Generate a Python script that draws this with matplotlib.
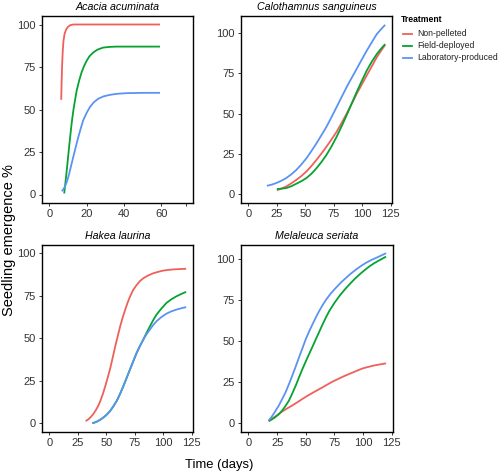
import matplotlib

matplotlib.use("Agg")
import matplotlib.pyplot as plt  # noqa: E402
from matplotlib.lines import Line2D  # noqa: E402

plt.rcParams["font.family"] = ["Liberation Sans", "DejaVu Sans"]

treatments = ["Non-pelleted", "Field-deployed", "Laboratory-produced"]
colors = ["#F0605A", "#06A332", "#5B93F2"]

# Acacia acuminata
acacia_red_x = [6.4, 6.6, 6.9, 7.2, 7.6, 8.2, 9.0, 10.0, 11.2, 12.9, 20, 40, 59.3]
acacia_red_y = [55.7, 66.0, 76.7, 84.0, 90.3, 94.5, 97.0, 98.6, 99.6, 100, 100, 100, 100]
acacia_green_x = [8.0, 8.7, 9.4, 10.3, 11.2, 12.0, 12.9, 13.8, 14.7, 16.0, 17.3, 18.6, 20,
                  21.5, 23.5, 25.8, 28.8, 32.0, 35.9, 48.3, 59.3]
acacia_green_y = [0.6, 7.5, 14.6, 24.5, 34.0, 42.0, 49.5, 55.5, 61.2, 67.0, 71.8, 75.5, 78.6,
                  81.3, 83.5, 85.2, 86.4, 86.8, 87.0, 87.0, 87.0]
acacia_blue_x = [6.7, 7.6, 8.5, 9.4, 10.3, 11.5, 12.9, 14.2, 15.6, 16.9, 18.2, 20.0, 21.8,
                 23.8, 26.2, 29.0, 32.4, 36.0, 41.2, 50.0, 59.3]
acacia_blue_y = [1.9, 3.2, 4.9, 7.5, 10.7, 16.0, 22.3, 28.0, 34.0, 39.0, 43.7, 48.0, 51.5,
                 54.2, 56.3, 57.7, 58.6, 59.2, 59.6, 59.8, 59.8]

# Calothamnus sanguineus
calo_red_x = [25, 29, 33.2, 37.6, 42.1, 46.5, 50.9, 55.3, 59.7, 64.1, 68.5, 73, 77.4, 81.8,
              86.2, 90.6, 95, 99.4, 103.8, 108.2, 112.6, 116.3, 120]
calo_red_y = [2.3, 3.4, 4.7, 6.6, 8.8, 11.2, 14.0, 17.4, 21.2, 25.2, 29.4, 34.0, 38.7, 44.2,
              50.0, 56.1, 62.3, 68.0, 73.7, 79.3, 85.0, 89.0, 92.8]
calo_green_x = [25, 29, 33.2, 37.6, 42.1, 46.5, 50.9, 55.3, 59.7, 64.1, 68.5, 73, 77.4, 81.8,
                86.2, 90.6, 95, 99.4, 103.8, 108.2, 112.6, 116.3, 120]
calo_green_y = [3.1, 3.3, 3.7, 4.8, 6.4, 8.0, 9.9, 12.6, 16.0, 19.9, 24.3, 29.7, 35.6, 42.1,
                49.0, 56.2, 63.4, 70.2, 76.7, 82.2, 87.0, 90.3, 93.2]
calo_blue_x = [16.2, 20.3, 24.4, 28.8, 33.2, 37.6, 42.1, 46.5, 50.9, 55.3, 59.7, 64.1, 68.5,
               73, 77.4, 81.8, 86.2, 90.6, 95, 99.4, 103.8, 108.2, 112.6, 116.3, 120]
calo_blue_y = [5.1, 5.8, 6.8, 8.2, 9.9, 12.2, 15.0, 18.4, 22.2, 26.7, 31.5, 36.6, 41.8, 47.9,
               54.1, 60.3, 66.5, 72.2, 77.8, 83.5, 89.1, 94.3, 99.4, 102.4, 105.2]

# Hakea laurina
hakea_red_x = [31.8, 34.0, 36.1, 38.3, 40.5, 42.7, 44.8, 47.0, 49.1, 51.3, 53.5, 55.7, 57.8,
               60.0, 62.1, 64.3, 66.5, 68.6, 70.8, 73.5, 76.6, 79.5, 82.4, 86.5, 91, 95.5,
               99.7, 104, 108.4, 114, 120]
hakea_red_y = [1.2, 2.2, 3.5, 5.2, 7.4, 10.0, 13.3, 17.4, 22.0, 27.2, 32.7, 39.1, 45.4, 51.4,
               57.1, 62.3, 66.9, 71.0, 74.7, 78.5, 81.5, 83.8, 85.4, 87.0, 88.3, 89.2, 89.9,
               90.3, 90.6, 90.8, 91.0]
hakea_green_x = [37.6, 39.7, 41.9, 44.8, 47.7, 50.6, 53.5, 56.3, 59.2, 62.1, 65, 67.9, 70.8,
                 73.7, 76.6, 79.5, 82.4, 85.3, 88.2, 91.0, 93.9, 98.2, 102.6, 107.0, 111.3,
                 115.6, 120]
hakea_green_y = [0.0, 0.4, 1.0, 2.1, 3.5, 5.2, 7.4, 10.1, 13.3, 17.4, 22.0, 26.9, 31.8, 36.7,
                 41.5, 45.5, 49.3, 53.3, 57.1, 60.6, 63.9, 67.5, 70.8, 73.0, 74.7, 76.1, 77.4]
hakea_blue_x = [37.6, 39.7, 41.9, 44.8, 47.7, 50.6, 53.5, 56.3, 59.2, 62.1, 65, 67.9, 70.8,
                73.7, 76.6, 79.5, 82.4, 85.3, 88.2, 91.0, 93.9, 98.2, 102.6, 107.0, 111.3,
                115.6, 120]
hakea_blue_y = [0.0, 0.4, 1.0, 2.1, 3.5, 5.2, 7.4, 10.1, 13.3, 17.4, 22.0, 26.9, 31.8, 36.7,
                41.5, 45.6, 49.3, 52.5, 55.2, 57.8, 60.0, 62.5, 64.5, 65.9, 66.9, 67.7, 68.4]

# Melaleuca seriata
mela_red_x = [17.6, 20.5, 23.5, 26.5, 29.4, 33.8, 38.2, 42.7, 47.1, 51.5, 55.9, 60.3, 64.7,
              69.1, 73.5, 78.0, 82.4, 86.8, 91.2, 95.6, 100, 104.4, 108.8, 114.4, 120]
mela_red_y = [1.2, 2.7, 4.1, 5.6, 7.1, 9.0, 10.8, 12.8, 14.8, 16.7, 18.5, 20.2, 21.9, 23.7,
              25.4, 26.9, 28.4, 29.7, 31.0, 32.3, 33.5, 34.3, 35.1, 35.8, 36.5]
mela_green_x = [17.6, 20.5, 23.5, 26.5, 29.4, 32.3, 35.3, 38.2, 41.2, 44.1, 47.1, 50.0, 52.9,
                55.9, 58.8, 61.8, 64.7, 67.6, 70.6, 75.0, 79.4, 83.8, 88.2, 92.6, 97.1, 101.5,
                105.9, 110.3, 114.7, 120]
mela_green_y = [1.2, 2.3, 3.7, 5.5, 7.7, 10.5, 13.8, 18.1, 22.9, 28.0, 33.1, 37.7, 42.2, 46.8,
                51.3, 55.9, 60.4, 64.6, 68.6, 73.4, 77.7, 81.4, 84.8, 88.0, 90.9, 93.5, 95.9,
                97.9, 99.6, 101.6]
mela_blue_x = [17.6, 19.8, 22, 24.2, 26.5, 29.4, 32.4, 35.3, 38.2, 41.2, 44.1, 47.1, 50,
               52.9, 55.9, 58.8, 61.8, 64.7, 67.6, 72.0, 76.5, 80.9, 85.3, 89.7, 94.1, 98.5,
               102.9, 107.3, 111.8, 116, 120]
mela_blue_y = [1.6, 3.5, 5.7, 8.2, 10.8, 14.7, 18.9, 23.8, 29.0, 34.6, 40.2, 45.8, 51.3, 56.0,
               60.4, 64.6, 68.6, 72.1, 75.3, 79.3, 82.8, 86.0, 88.8, 91.5, 93.9, 96.1, 98.0,
               99.6, 101.0, 102.4, 103.7]

panels = [
    ("Acacia acuminata",
     [(acacia_red_x, acacia_red_y), (acacia_green_x, acacia_green_y), (acacia_blue_x, acacia_blue_y)],
     [42, 16, 151, 187], (-3.9, 77), (-5.0, 105.0),
     [0, 20, 40, 60, 73], ["0", "20", "40", "60", ""]),
    ("Calothamnus sanguineus",
     [(calo_red_x, calo_red_y), (calo_green_x, calo_green_y), (calo_blue_x, calo_blue_y)],
     [241, 16, 151, 187], (-6.5, 126), (-5.6, 110.7),
     [0, 25, 50, 75, 100, 125], None),
    ("Hakea laurina",
     [(hakea_red_x, hakea_red_y), (hakea_green_x, hakea_green_y), (hakea_blue_x, hakea_blue_y)],
     [42, 245, 151, 187], (-6.5, 126), (-5.2, 105.0),
     [0, 25, 50, 75, 100, 125], None),
    ("Melaleuca seriata",
     [(mela_red_x, mela_red_y), (mela_green_x, mela_green_y), (mela_blue_x, mela_blue_y)],
     [241, 245, 152, 187], (-6.5, 126), (-5.4, 108.7),
     [0, 25, 50, 75, 100, 125], None),
]

W, H = 500, 476
fig = plt.figure(figsize=(W / 100, H / 100), dpi=100, facecolor="white")

for title, series, (px, py, pw, ph), xlim, ylim, xticks, xlabels in panels:
    ax = fig.add_axes([px / W, 1 - (py + ph) / H, pw / W, ph / H])
    for (xs, ys), color in zip(series, colors):
        ax.plot(xs, ys, color=color, linewidth=1.3, solid_capstyle="butt",
                solid_joinstyle="round")
    ax.set_xlim(*xlim)
    ax.set_ylim(*ylim)
    ax.set_xticks(xticks)
    if xlabels is not None:
        ax.set_xticklabels(xlabels)
    ax.set_yticks([0, 25, 50, 75, 100])
    for side in ["top", "right", "left", "bottom"]:
        ax.spines[side].set_color("black")
        ax.spines[side].set_linewidth(1.0)
    ax.tick_params(direction="out", length=2.5, width=0.7, color="#333333",
                   labelsize=8, labelcolor="#333333", pad=2)
    ax.set_title(title, fontsize=7.7, style="italic", pad=4)

fig.text(9 / W, 1 - 240 / H, "Seedling emergence %", rotation=90, fontsize=10.5,
         ha="center", va="center")
fig.text(219 / W, 1 - 465 / H, "Time (days)", fontsize=9.4, ha="center", va="center")

# legend, drawn by hand to sit where the reference puts it
fig.text(401 / W, 1 - 20 / H, "Treatment", fontsize=6.2, fontweight="bold",
         ha="left", va="center")
for i, (label, color) in enumerate(zip(treatments, colors)):
    yy = 1 - (34 + 12 * i) / H
    fig.add_artist(Line2D([402.5 / W, 411.5 / W], [yy, yy], color=color, linewidth=1.3,
                          transform=fig.transFigure))
    fig.text(417.5 / W, yy, label, fontsize=6.2, color="#222222", ha="left", va="center")

fig.savefig("out.png", dpi=100)
